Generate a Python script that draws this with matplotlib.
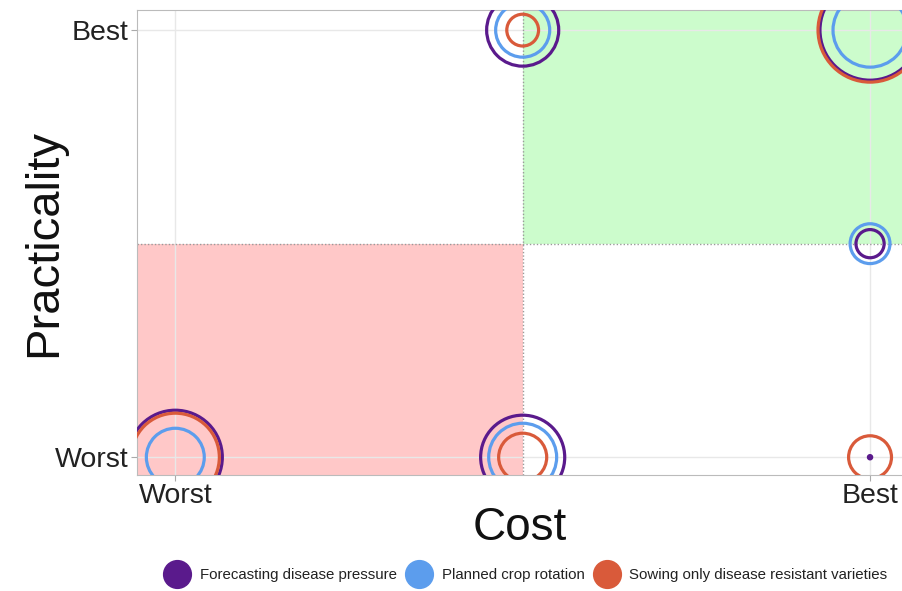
import matplotlib
matplotlib.use("Agg")
import matplotlib.pyplot as plt
from matplotlib.lines import Line2D

plt.rcParams['font.family'] = ['Liberation Sans', 'DejaVu Sans']

# ---- data ----
tick_labels = ["Worst", "Best"]
series = ["Forecasting disease pressure", "Planned crop rotation",
          "Sowing only disease resistant varieties"]
colors = ["#5a1a8c", "#5c9ded", "#d95a3a"]
# point positions: cost score, practicality score (0 = worst, 1 = best)
cost = [0.0, 0.5, 1.0, 0.5, 1.0, 1.0]
practicality = [0.0, 0.0, 0.0, 1.0, 1.0, 0.5]
# bubble magnitude (area) for each series at each point
counts = {
    "Forecasting disease pressure": [245, 196, 0.3, 144, 278, 22],
    "Planned crop rotation": [93, 128, 0, 81, 152, 44],
    "Sowing only disease resistant varieties": [215, 64, 51, 28, 300, 0],
}

fig = plt.figure(figsize=(9.02, 5.91), dpi=100)
ax = fig.add_axes([0.152, 0.196, 0.848, 0.787])
ax.set_xlim(-0.055, 1.046)
ax.set_ylim(-0.042, 1.047)

# quadrant shading
ax.axvspan(0.5, 1.1, ymin=(0.5 + 0.042) / 1.089, ymax=1, color="#ccfccc", zorder=0, lw=0)
ax.axvspan(-0.1, 0.5, ymin=0, ymax=(0.5 + 0.042) / 1.089, color="#ffc8c8", zorder=0, lw=0)
ax.axvline(0.5, color="#9a9a9a", ls=(0, (1, 1.5)), lw=1, zorder=1)
ax.axhline(0.5, color="#9a9a9a", ls=(0, (1, 1.5)), lw=1, zorder=1)

ax.set_xticks([0, 1])
ax.set_xticklabels(tick_labels, fontsize=20.5)
ax.set_yticks([0, 1])
ax.set_yticklabels(tick_labels, fontsize=20.5)
ax.grid(True, color="#e8e8e8", lw=1, zorder=0.5)
ax.set_axisbelow(True)
ax.tick_params(length=4, color="#aaaaaa", pad=2, labelcolor="#222222")
for sp in ["left", "bottom", "top"]:
    ax.spines[sp].set_color("#bbbbbb")
ax.spines["right"].set_visible(False)

ax.set_xlabel("Cost", fontsize=33, color="#111111")
ax.set_ylabel("Practicality", fontsize=34, color="#111111")
ax.xaxis.set_label_coords(0.5, -0.066)
ax.yaxis.set_label_coords(-0.093, 0.5)

scale = 18.7
order = [1, 0, 2]
for i in order:
    name = series[i]
    s = [c * scale for c in counts[name]]
    ax.scatter(cost, practicality, s=s, facecolors="none", edgecolors=colors[i],
               linewidths=2.3, zorder=3, clip_on=True)

handles = [Line2D([], [], marker="o", ls="none", markersize=20,
                  markerfacecolor=c, markeredgecolor=c) for c in colors]
fig.legend(handles, series, loc="center", bbox_to_anchor=(0.586, 0.027), ncol=3,
           frameon=False, fontsize=10.8, handletextpad=1.0, columnspacing=1.0,
           handlelength=1.0, labelcolor="#222222")

fig.savefig("out.png", dpi=100)
